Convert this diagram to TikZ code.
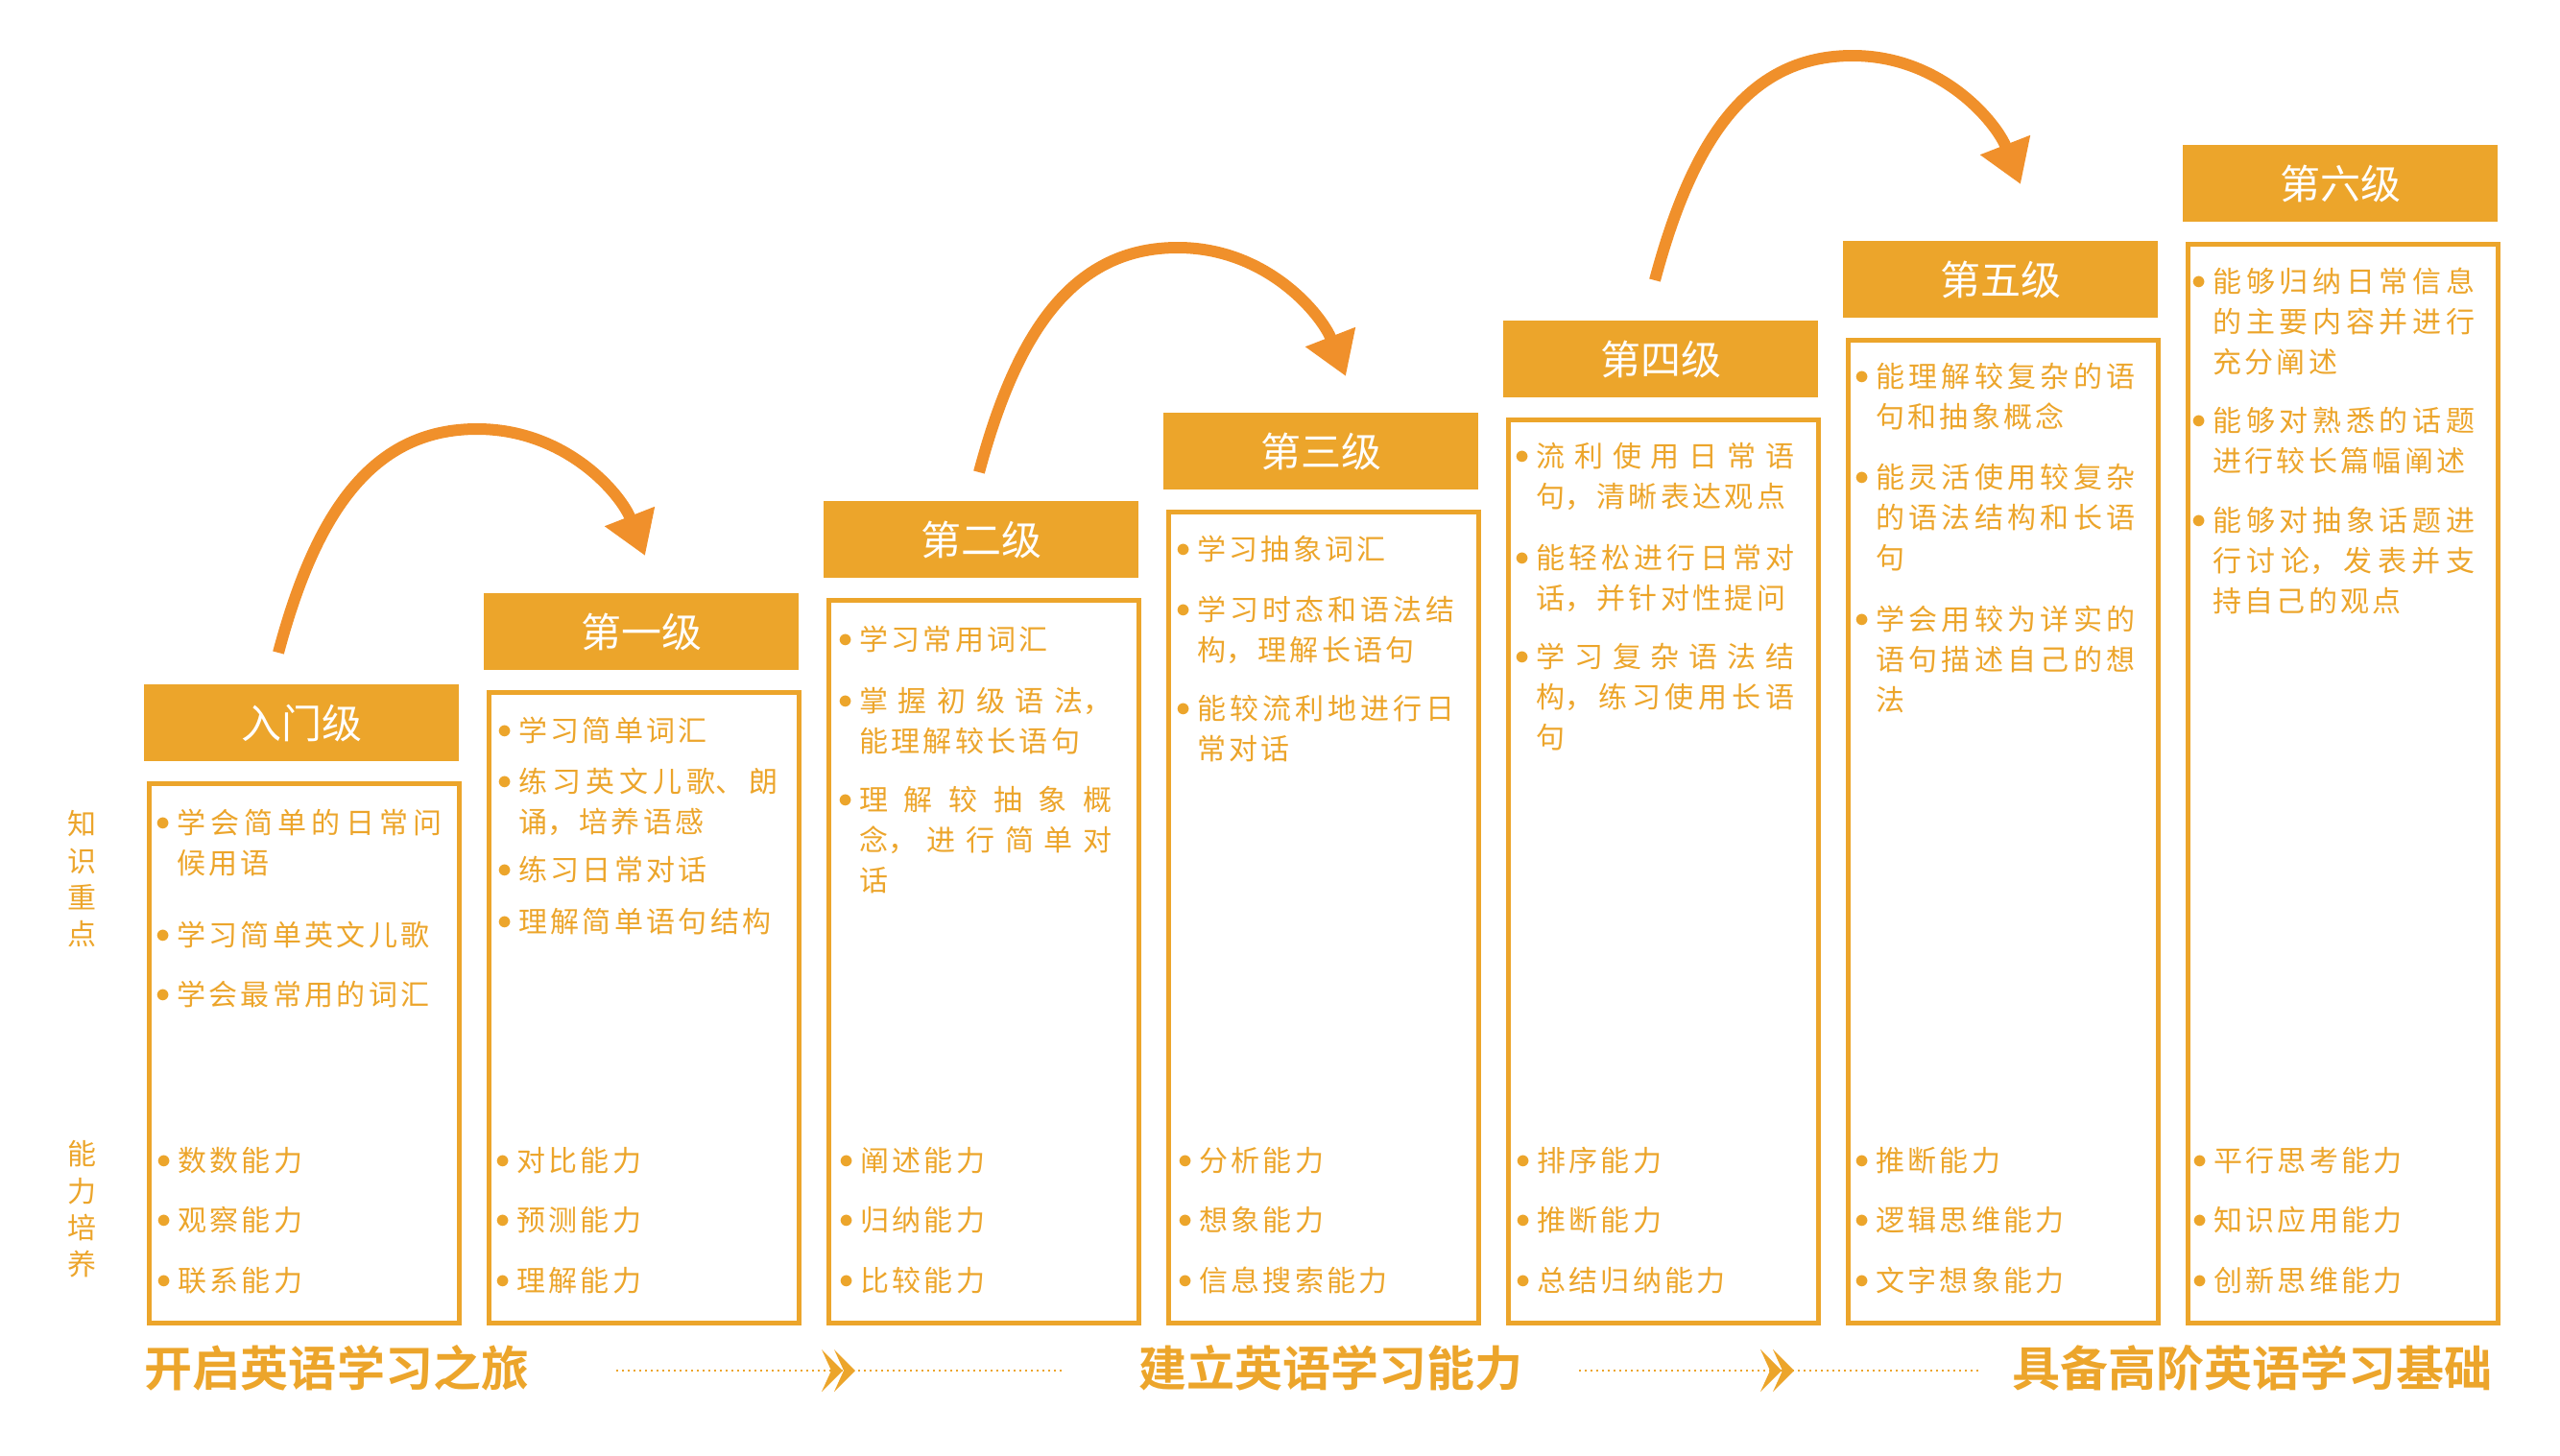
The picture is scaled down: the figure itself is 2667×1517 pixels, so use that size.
\documentclass[tikz,border=0pt]{standalone}
\usepackage{fontspec}
\setmainfont{Noto Sans CJK SC}[BoldFont={* Bold}]
\usepackage{tikz}
\usetikzlibrary{arrows.meta,positioning,calc,decorations.markings}

\definecolor{levelGold}{HTML}{ECA52B}
\definecolor{jumpOrange}{HTML}{F0902B}
\XeTeXlinebreaklocale "zh"
\setlength{\parindent}{0pt}
\newcommand{\dotitem}{\leavevmode\llap{\raisebox{0.12em}{$\bullet$}\hspace{0.22em}}\rule[-0.12em]{0pt}{1em}}

\begin{document}
\begin{tikzpicture}[
    x=0.2mm, y=-0.2mm,
    levelHead/.style={
        rectangle, fill=levelGold, text=white, anchor=north west,
        minimum width=65.6mm, minimum height=16mm, inner sep=0pt,
        font={\fontsize{8.4mm}{10mm}\selectfont\XeTeXlinebreakskip=2mm}
    },
    levelBody/.style={
        rectangle, draw=levelGold, line width=1mm,
        minimum width=64.6mm, inner sep=0pt
    },
    item/.style={
        anchor=north west, text width=54mm, align=justify, inner sep=0pt, text=levelGold,
        font={\fontsize{6mm}{8.4mm}\selectfont\XeTeXlinebreakskip=0.66mm plus 2mm}
    },
    sideLabel/.style={
        text=levelGold, align=center, inner sep=0pt,
        font={\fontsize{6mm}{7.66mm}\selectfont}
    },
    stageCaption/.style={
        text=levelGold, inner sep=0pt,
        font={\bfseries\fontsize{10mm}{12mm}\selectfont\XeTeXlinebreakskip=0pt}
    },
    jump/.style={
        -{Triangle[length=8.8mm, width=10.6mm]}, line width=2.4mm, draw=jumpOrange
    },
    pathLine/.style={
        draw=levelGold, line width=0.4mm, dash pattern=on 0.4mm off 0.8mm,
        postaction={decorate},
        decoration={markings, mark=at position 0.5 with {
            \fill[levelGold] (-20,-22) -- (2,0) -- (-20,22) -- (-10,0) -- cycle;
            \fill[levelGold] (-7,-22) -- (15,0) -- (-7,22) -- (3,0) -- cycle;
        }}
    }
]
\useasboundingbox (0,0) rectangle (2667,1517);

% Side labels
\node[sideLabel] (knowLabel) at (85,916) {知\\识\\重\\点};
\node[sideLabel] (skillLabel) at (85,1260) {能\\力\\培\\养};

% Level headers
\node[levelHead] (h0) at (150,713) {入门级};
\node[levelHead] (h1) at (504,618) {第一级};
\node[levelHead] (h2) at (858,522) {第二级};
\node[levelHead] (h3) at (1212,430) {第三级};
\node[levelHead] (h4) at (1566,334) {第四级};
\node[levelHead] (h5) at (1920,251) {第五级};
\node[levelHead] (h6) at (2274,151) {第六级};

% Level bodies
\node[levelBody, below=4.1mm of h0.south west, anchor=north west, xshift=0.5mm, minimum height=112.4mm] (b0) {};
\node[levelBody, below=4.1mm of h1.south west, anchor=north west, xshift=0.5mm, minimum height=131.4mm] (b1) {};
\node[levelBody, below=4.1mm of h2.south west, anchor=north west, xshift=0.5mm, minimum height=150.6mm] (b2) {};
\node[levelBody, below=4.1mm of h3.south west, anchor=north west, xshift=0.5mm, minimum height=169mm] (b3) {};
\node[levelBody, below=4.1mm of h4.south west, anchor=north west, xshift=0.5mm, minimum height=188.2mm] (b4) {};
\node[levelBody, below=4.1mm of h5.south west, anchor=north west, xshift=0.5mm, minimum height=204.8mm] (b5) {};
\node[levelBody, below=4.1mm of h6.south west, anchor=north west, xshift=0.5mm, minimum height=224.8mm] (b6) {};

% Level 0: knowledge and skills
\node[item, text width=55.2mm] (k0a) at (184,842) {\dotitem 学会简单的日常问\linebreak 候用语};
\node[item] (k0b) at (184,959) {\dotitem 学习简单英文儿歌};
\node[item] (k0c) at (184,1021) {\dotitem 学会最常用的词汇};
\node[item] (s0a) at (185,1194) {\dotitem 数数能力};
\node[item] (s0b) at (185,1256) {\dotitem 观察能力};
\node[item] (s0c) at (185,1319) {\dotitem 联系能力};

% Level 1
\node[item] (k1a) at (540,746) {\dotitem 学习简单词汇};
\node[item] (k1b) at (540,799) {\dotitem 练习英文儿歌、朗\linebreak 诵，培养语感};
\node[item] (k1c) at (540,891) {\dotitem 练习日常对话};
\node[item] (k1d) at (540,945) {\dotitem 理解简单语句结构};
\node[item] (s1a) at (538,1194) {\dotitem 对比能力};
\node[item] (s1b) at (538,1256) {\dotitem 预测能力};
\node[item] (s1c) at (538,1319) {\dotitem 理解能力};

% Level 2
\node[item, text width=52.6mm] (k2a) at (895,651) {\dotitem 学习常用词汇};
\node[item, text width=52.6mm] (k2b) at (895,715) {\dotitem 掌握初级语法，\linebreak 能理解较长语句};
\node[item, text width=52.6mm] (k2c) at (895,818) {\dotitem 理解较抽象概\linebreak 念，进行简单对\linebreak 话};
\node[item] (s2a) at (896,1194) {\dotitem 阐述能力};
\node[item] (s2b) at (896,1256) {\dotitem 归纳能力};
\node[item] (s2c) at (896,1319) {\dotitem 比较能力};

% Level 3
\node[item, text width=53.6mm] (k3a) at (1247,557) {\dotitem 学习抽象词汇};
\node[item, text width=53.6mm] (k3b) at (1247,620) {\dotitem 学习时态和语法结\linebreak 构，理解长语句};
\node[item, text width=53.6mm] (k3c) at (1247,723) {\dotitem 能较流利地进行日\linebreak 常对话};
\node[item] (s3a) at (1249,1194) {\dotitem 分析能力};
\node[item] (s3b) at (1249,1256) {\dotitem 想象能力};
\node[item] (s3c) at (1249,1319) {\dotitem 信息搜索能力};

% Level 4
\node[item, text width=53.8mm] (k4a) at (1600,460) {\dotitem 流利使用日常语\linebreak 句，清晰表达观点};
\node[item, text width=53.8mm] (k4b) at (1600,566) {\dotitem 能轻松进行日常对\linebreak 话，并针对性提问};
\node[item, text width=53.8mm] (k4c) at (1600,669) {\dotitem 学习复杂语法结\linebreak 构，练习使用长语\linebreak 句};
\node[item] (s4a) at (1601,1194) {\dotitem 排序能力};
\node[item] (s4b) at (1601,1256) {\dotitem 推断能力};
\node[item] (s4c) at (1601,1319) {\dotitem 总结归纳能力};

% Level 5
\node[item] (k5a) at (1954,377) {\dotitem 能理解较复杂的语\linebreak 句和抽象概念};
\node[item] (k5b) at (1954,482) {\dotitem 能灵活使用较复杂\linebreak 的语法结构和长语\linebreak 句};
\node[item] (k5c) at (1954,630) {\dotitem 学会用较为详实的\linebreak 语句描述自己的想\linebreak 法};
\node[item] (s5a) at (1954,1194) {\dotitem 推断能力};
\node[item] (s5b) at (1954,1256) {\dotitem 逻辑思维能力};
\node[item] (s5c) at (1954,1319) {\dotitem 文字想象能力};

% Level 6
\node[item, text width=54.6mm] (k6a) at (2305,278) {\dotitem 能够归纳日常信息\linebreak 的主要内容并进行\linebreak 充分阐述};
\node[item, text width=54.6mm] (k6b) at (2305,423) {\dotitem 能够对熟悉的话题\linebreak 进行较长篇幅阐述};
\node[item, text width=54.6mm] (k6c) at (2305,527) {\dotitem 能够对抽象话题进\linebreak 行讨论，发表并支\linebreak 持自己的观点};
\node[item] (s6a) at (2306,1194) {\dotitem 平行思考能力};
\node[item] (s6b) at (2306,1256) {\dotitem 知识应用能力};
\node[item] (s6c) at (2306,1319) {\dotitem 创新思维能力};

% Jump arrows between levels
\coordinate (j0s) at (290,680);  \coordinate (j0p) at (497,447);  \coordinate (j0e) at (672,579);
\coordinate (j1s) at (1020,492); \coordinate (j1p) at (1227,258); \coordinate (j1e) at (1402,392);
\coordinate (j2s) at (1724,292); \coordinate (j2p) at (1930,58);  \coordinate (j2e) at (2105,192);
\foreach \j in {j0,j1,j2}
    \draw[jump] (\j s) .. controls +(40,-150) and +(-107,0) .. (\j p) .. controls +(93,0) and +(-25,-64) .. (\j e);

% Stage captions
\node[stageCaption] (cap0) at (351,1425) {开启英语学习之旅};
\node[stageCaption] (cap1) at (1386,1425) {建立英语学习能力};
\node[stageCaption] (cap2) at (2346,1425) {具备高阶英语学习基础};

\draw[pathLine] ($(cap0.east)+(91,3)$) -- ($(cap1.west)+(-76,3)$);
\draw[pathLine] ($(cap1.east)+(59,3)$) -- ($(cap2.west)+(-33,3)$);

\end{tikzpicture}
\end{document}
